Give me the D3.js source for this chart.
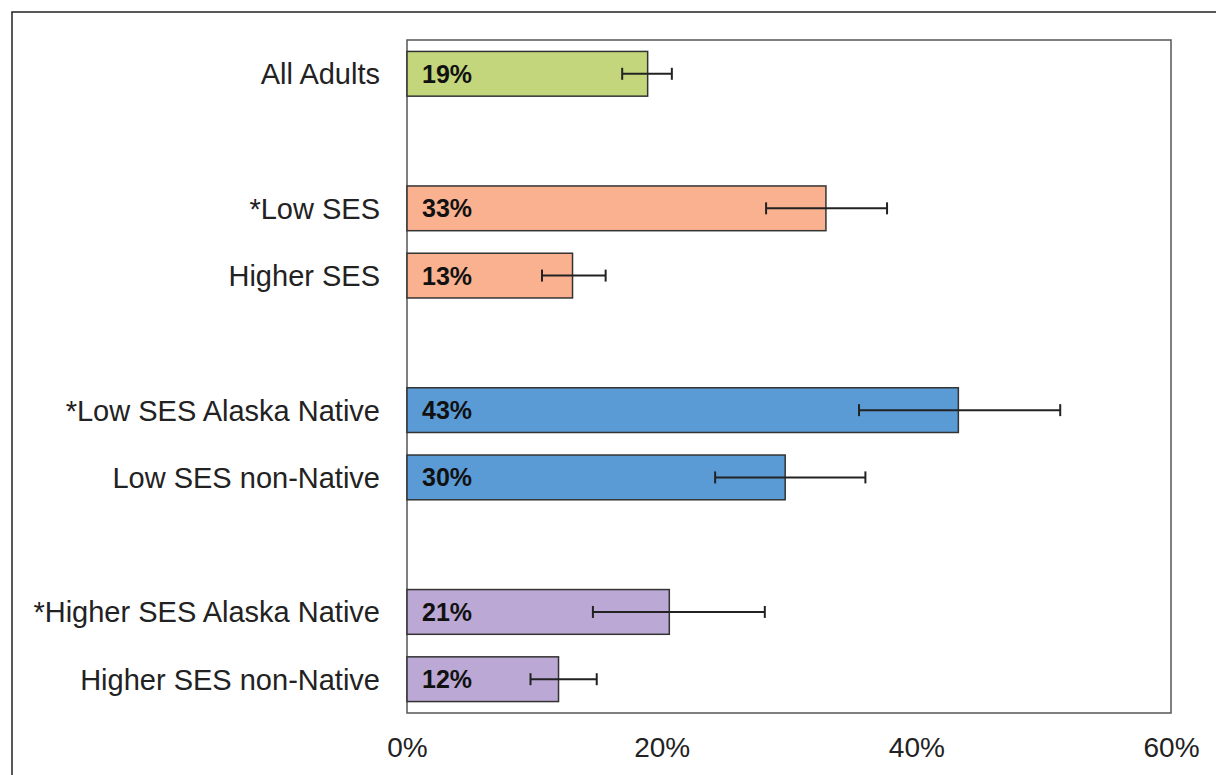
<!DOCTYPE html>
<html>
<head>
<meta charset="utf-8">
<script src="https://cdn.jsdelivr.net/npm/d3@7"></script>
<style>
  html, body { margin: 0; padding: 0; background: #fff; }
  svg { display: block; }
  text { font-family: "Liberation Sans", Arial, sans-serif; }
</style>
</head>
<body>
<svg id="chart" width="1216" height="775"></svg>
<script>
// ---- data ----
const slots = ["All Adults", "gap1", "*Low SES", "Higher SES", "gap2",
  "*Low SES Alaska Native", "Low SES non-Native", "gap3",
  "*Higher SES Alaska Native", "Higher SES non-Native"];
const categories = ["All Adults", "*Low SES", "Higher SES",
  "*Low SES Alaska Native", "Low SES non-Native",
  "*Higher SES Alaska Native", "Higher SES non-Native"];
const values = [19, 33, 13, 43, 30, 21, 12];
const barLengths = [18.9, 32.9, 13.0, 43.3, 29.7, 20.6, 11.9];
const errLow = [16.9, 28.2, 10.6, 35.5, 24.2, 14.6, 9.7];
const errHigh = [20.8, 37.7, 15.6, 51.3, 36.0, 28.1, 14.9];
const groupColors = ["#c3d67c", "#f9b18f", "#f9b18f", "#5a9bd5", "#5a9bd5", "#bba8d4", "#bba8d4"];
const xTicks = [0, 20, 40, 60];

const svg = d3.select("#chart");
const W = 1216, H = 775;

// outer frame
svg.append("rect").attr("x", 12).attr("y", 12).attr("width", W + 20).attr("height", H + 20)
  .attr("fill", "#fff").attr("stroke", "#222").attr("stroke-width", 1.5);

const m = { left: 407, right: 1171, top: 40, bottom: 713 };
const x = d3.scaleLinear().domain([0, 60]).range([m.left, m.right]);
const y = d3.scaleBand().domain(slots).range([m.top, m.bottom]).paddingInner(0.335).paddingOuter(0.17);

// plot frame
svg.append("rect").attr("x", m.left).attr("y", m.top)
  .attr("width", m.right - m.left).attr("height", m.bottom - m.top)
  .attr("fill", "none").attr("stroke", "#555").attr("stroke-width", 1.5);

const data = categories.map((c, i) => ({ c, v: values[i], len: barLengths[i], lo: errLow[i], hi: errHigh[i], col: groupColors[i] }));

// bars
svg.selectAll("rect.bar").data(data).enter().append("rect")
  .attr("class", "bar")
  .attr("x", x(0)).attr("y", d => y(d.c))
  .attr("width", d => x(d.len) - x(0)).attr("height", y.bandwidth())
  .attr("fill", d => d.col).attr("stroke", "#333").attr("stroke-width", 1.5);

// value labels
svg.selectAll("text.val").data(data).enter().append("text")
  .attr("x", x(0) + 15).attr("y", d => y(d.c) + y.bandwidth() / 2)
  .attr("dy", "0.36em").attr("font-size", 25).attr("font-weight", "bold").attr("fill", "#111")
  .text(d => d.v + "%");

// error bars
const eb = svg.selectAll("g.err").data(data).enter().append("g").attr("stroke", "#222").attr("stroke-width", 2);
eb.append("line").attr("x1", d => x(d.lo)).attr("x2", d => x(d.hi))
  .attr("y1", d => y(d.c) + y.bandwidth() / 2).attr("y2", d => y(d.c) + y.bandwidth() / 2);
eb.append("line").attr("x1", d => x(d.lo)).attr("x2", d => x(d.lo))
  .attr("y1", d => y(d.c) + y.bandwidth() / 2 - 6).attr("y2", d => y(d.c) + y.bandwidth() / 2 + 6);
eb.append("line").attr("x1", d => x(d.hi)).attr("x2", d => x(d.hi))
  .attr("y1", d => y(d.c) + y.bandwidth() / 2 - 6).attr("y2", d => y(d.c) + y.bandwidth() / 2 + 6);

// category labels
svg.selectAll("text.cat").data(data).enter().append("text")
  .attr("x", 380).attr("y", d => y(d.c) + y.bandwidth() / 2)
  .attr("dy", "0.36em").attr("text-anchor", "end").attr("font-size", 29).attr("fill", "#222")
  .text(d => d.c);

// x axis labels
const xAxis = d3.axisBottom(x).tickValues(xTicks).tickFormat(d => d + "%").tickSize(0).tickPadding(24);
const gx = svg.append("g").attr("transform", `translate(0,${m.bottom})`).call(xAxis);
gx.select(".domain").remove();
gx.selectAll("text").attr("font-size", 28).attr("fill", "#222")
  .attr("font-family", "'Liberation Sans', Arial, sans-serif");
</script>
</body>
</html>
